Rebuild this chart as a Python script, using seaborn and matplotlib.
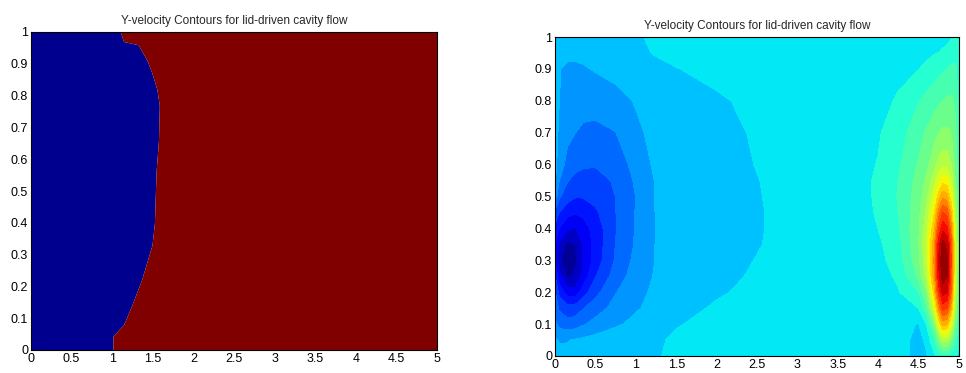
import numpy as np
import matplotlib
matplotlib.use("Agg")
import matplotlib.pyplot as plt
import seaborn as sns

# left panel: edge between the negative (blue) and positive (red) region
edge_y = [0.0, 0.044, 0.08, 0.14, 0.22, 0.33, 0.40, 0.56, 0.66, 0.77, 0.82, 0.87, 0.91, 0.96, 0.97, 1.0]
edge_x = [1.01, 1.01, 1.14, 1.24, 1.36, 1.49, 1.52, 1.54, 1.57, 1.58, 1.55, 1.49, 1.43, 1.32, 1.14, 1.10]

# right panel: y-velocity on a coarse grid
x_grid = [0, 0.05, 0.15, 0.25, 0.35, 0.5, 0.75, 1.0, 1.25, 1.5, 2.0, 2.5, 3.0, 3.5,
          4.0, 4.25, 4.5, 4.6, 4.7, 4.75, 4.8, 4.85, 4.9, 4.95, 5.0]
y_grid = [0, 0.05, 0.1, 0.15, 0.2, 0.25, 0.3, 0.35, 0.4, 0.45, 0.5, 0.55, 0.6, 0.7, 0.8, 0.9, 0.95, 1.0]
v_field = [
    [-0.012, -0.020, -0.022, -0.020, -0.018, -0.015, -0.012, -0.008, -0.002, 0.005, 0.009, 0.010, 0.011, 0.012,
     0.012, 0.014, -0.012, -0.003, 0.025, 0.040, 0.050, 0.050, 0.045, 0.035, 0.020],
    [-0.025, -0.033, -0.032, -0.028, -0.025, -0.020, -0.016, -0.011, -0.004, 0.004, 0.009, 0.011, 0.012, 0.012,
     0.012, 0.012, -0.010, 0.006, 0.060, 0.110, 0.160, 0.160, 0.120, 0.070, 0.035],
    [-0.055, -0.070, -0.078, -0.075, -0.064, -0.050, -0.034, -0.024, -0.014, -0.002, 0.008, 0.011, 0.012, 0.013,
     0.013, 0.010, -0.002, 0.030, 0.120, 0.210, 0.280, 0.270, 0.200, 0.110, 0.050],
    [-0.070, -0.095, -0.110, -0.108, -0.092, -0.075, -0.050, -0.033, -0.022, -0.012, 0.004, 0.010, 0.012, 0.013,
     0.014, 0.020, 0.030, 0.080, 0.200, 0.300, 0.370, 0.360, 0.280, 0.150, 0.070],
    [-0.090, -0.130, -0.165, -0.170, -0.135, -0.100, -0.062, -0.038, -0.025, -0.018, -0.004, 0.008, 0.012, 0.013,
     0.015, 0.027, 0.060, 0.120, 0.260, 0.370, 0.430, 0.420, 0.330, 0.170, 0.080],
    [-0.120, -0.170, -0.218, -0.205, -0.170, -0.123, -0.077, -0.046, -0.027, -0.021, -0.009, 0.004, 0.012, 0.013,
     0.017, 0.035, 0.095, 0.160, 0.300, 0.410, 0.465, 0.450, 0.350, 0.190, 0.085],
    [-0.160, -0.205, -0.228, -0.218, -0.180, -0.138, -0.087, -0.052, -0.029, -0.024, -0.012, 0.001, 0.012, 0.013,
     0.020, 0.045, 0.110, 0.175, 0.310, 0.420, 0.475, 0.455, 0.360, 0.200, 0.090],
    [-0.150, -0.185, -0.220, -0.210, -0.178, -0.140, -0.090, -0.057, -0.029, -0.024, -0.015, -0.002, 0.012, 0.013,
     0.024, 0.050, 0.115, 0.180, 0.300, 0.405, 0.460, 0.440, 0.350, 0.200, 0.090],
    [-0.130, -0.150, -0.175, -0.183, -0.165, -0.138, -0.092, -0.058, -0.029, -0.024, -0.015, -0.003, 0.012, 0.013,
     0.030, 0.055, 0.115, 0.170, 0.270, 0.360, 0.410, 0.395, 0.310, 0.180, 0.085],
    [-0.100, -0.120, -0.140, -0.148, -0.143, -0.126, -0.091, -0.059, -0.029, -0.024, -0.015, -0.003, 0.012, 0.013,
     0.032, 0.060, 0.110, 0.155, 0.240, 0.310, 0.360, 0.345, 0.270, 0.160, 0.080],
    [-0.045, -0.085, -0.108, -0.118, -0.118, -0.110, -0.090, -0.060, -0.028, -0.023, -0.014, -0.002, 0.012, 0.013,
     0.033, 0.062, 0.105, 0.140, 0.200, 0.255, 0.290, 0.280, 0.220, 0.140, 0.075],
    [-0.028, -0.060, -0.088, -0.100, -0.104, -0.100, -0.087, -0.056, -0.028, -0.023, -0.014, -0.001, 0.012, 0.013,
     0.033, 0.060, 0.100, 0.125, 0.170, 0.200, 0.225, 0.220, 0.180, 0.120, 0.070],
    [-0.022, -0.045, -0.070, -0.080, -0.086, -0.088, -0.078, -0.050, -0.024, -0.022, -0.013, 0.001, 0.012, 0.013,
     0.031, 0.055, 0.092, 0.110, 0.140, 0.160, 0.170, 0.170, 0.150, 0.110, 0.065],
    [-0.018, -0.036, -0.052, -0.060, -0.066, -0.068, -0.061, -0.036, -0.022, -0.017, -0.009, 0.003, 0.012, 0.013,
     0.027, 0.045, 0.080, 0.093, 0.110, 0.118, 0.125, 0.125, 0.120, 0.100, 0.060],
    [-0.015, -0.030, -0.040, -0.045, -0.048, -0.048, -0.040, -0.028, -0.018, -0.013, -0.004, 0.007, 0.012, 0.013,
     0.018, 0.034, 0.058, 0.068, 0.078, 0.084, 0.090, 0.094, 0.096, 0.085, 0.050],
    [-0.012, -0.029, -0.034, -0.035, -0.033, -0.028, -0.021, -0.014, -0.008, -0.001, 0.008, 0.012, 0.012, 0.013,
     0.014, 0.020, 0.029, 0.037, 0.046, 0.051, 0.055, 0.060, 0.065, 0.065, 0.045],
    [-0.010, -0.020, -0.025, -0.025, -0.023, -0.020, -0.014, -0.007, 0.002, 0.007, 0.011, 0.012, 0.012, 0.012,
     0.013, 0.015, 0.020, 0.023, 0.028, 0.030, 0.034, 0.038, 0.045, 0.050, 0.040],
    [-0.008, -0.012, -0.014, -0.015, -0.015, -0.014, -0.010, -0.004, 0.006, 0.010, 0.012, 0.012, 0.012, 0.012,
     0.012, 0.013, 0.014, 0.015, 0.017, 0.018, 0.020, 0.022, 0.026, 0.032, 0.030],
]
levels = np.linspace(-0.24, 0.48, 25)

x_ticks = [0, 0.5, 1, 1.5, 2, 2.5, 3, 3.5, 4, 4.5, 5]
y_ticks = [0, 0.1, 0.2, 0.3, 0.4, 0.5, 0.6, 0.7, 0.8, 0.9, 1]
title = "Y-velocity Contours for lid-driven cavity flow"

sns.set_style("ticks")
plt.rcParams["font.family"] = ["Liberation Sans", "DejaVu Sans"]
plt.rcParams["xtick.direction"] = "in"
plt.rcParams["ytick.direction"] = "in"

fig = plt.figure(figsize=(9.66, 3.73), dpi=100)
ax1 = fig.add_axes([31 / 966, 23 / 373, 406 / 966, 318 / 373])
ax2 = fig.add_axes([555 / 966, 17 / 373, 404 / 966, 319 / 373])

# left: two-colour sign map
ax1.fill_betweenx(edge_y, 0, edge_x, color="#00008F", linewidth=0)
ax1.fill_betweenx(edge_y, edge_x, 5, color="#800000", linewidth=0)

# right: filled contours
X, Y = np.meshgrid(x_grid, y_grid)
cs = ax2.contourf(X, Y, np.array(v_field), levels=levels, cmap="jet")
cs.set_edgecolor("face")
cs.set_linewidth(0.4)

for ax in (ax1, ax2):
    ax.set_xlim(0, 5)
    ax.set_ylim(0, 1)
    ax.set_xticks(x_ticks)
    ax.set_yticks(y_ticks)
    ax.set_xticklabels(["%g" % t for t in x_ticks])
    ax.set_yticklabels(["%g" % t for t in y_ticks])
    ax.tick_params(labelsize=9, length=3, width=0.7, top=True, right=True, pad=2, colors="black")
    for s in ax.spines.values():
        s.set_linewidth(0.8)
        s.set_color("black")
    ax.set_title(title, fontsize=8.5, pad=6)

fig.savefig("out.png", dpi=100)
